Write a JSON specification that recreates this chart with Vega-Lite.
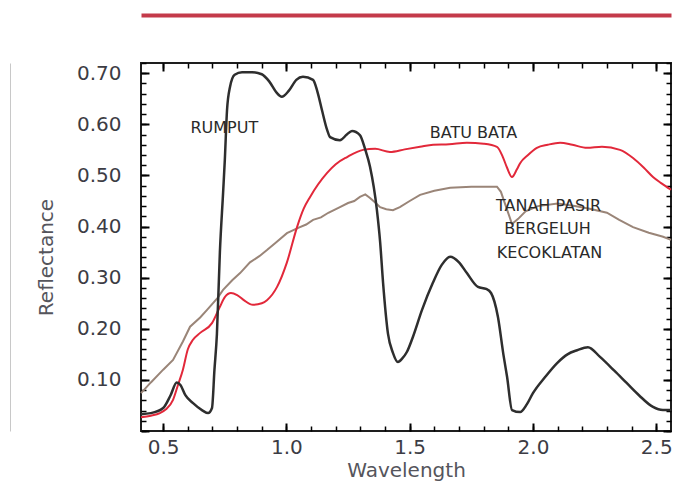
{
  "$schema": "https://vega.github.io/schema/vega-lite/v6.json",
  "width": 530,
  "height": 368,
  "autosize": "none",
  "padding": {"left": 141, "top": 63, "right": 7, "bottom": 52},
  "background": "white",
  "config": {
    "view": {"stroke": "#1e1e1e", "strokeWidth": 2},
    "axis": {"grid": false, "labelFont": "DejaVu Sans", "titleFont": "DejaVu Sans"}
  },
  "datasets": {
    "rumput": [
      {"w": 0.41, "r": 0.033}, {"w": 0.45, "r": 0.035}, {"w": 0.5, "r": 0.045}, {"w": 0.53, "r": 0.07},
      {"w": 0.555, "r": 0.095}, {"w": 0.57, "r": 0.09}, {"w": 0.59, "r": 0.07}, {"w": 0.62, "r": 0.055},
      {"w": 0.66, "r": 0.04}, {"w": 0.682, "r": 0.035}, {"w": 0.698, "r": 0.045}, {"w": 0.708, "r": 0.12},
      {"w": 0.718, "r": 0.19}, {"w": 0.73, "r": 0.35}, {"w": 0.743, "r": 0.466}, {"w": 0.75, "r": 0.53},
      {"w": 0.759, "r": 0.628}, {"w": 0.771, "r": 0.673}, {"w": 0.79, "r": 0.697}, {"w": 0.82, "r": 0.702},
      {"w": 0.86, "r": 0.702}, {"w": 0.9, "r": 0.698}, {"w": 0.93, "r": 0.684}, {"w": 0.96, "r": 0.662},
      {"w": 0.981, "r": 0.654}, {"w": 1.01, "r": 0.666}, {"w": 1.04, "r": 0.687}, {"w": 1.067, "r": 0.693},
      {"w": 1.108, "r": 0.687}, {"w": 1.125, "r": 0.665}, {"w": 1.144, "r": 0.628}, {"w": 1.165, "r": 0.589},
      {"w": 1.177, "r": 0.575}, {"w": 1.217, "r": 0.569}, {"w": 1.245, "r": 0.58}, {"w": 1.266, "r": 0.587},
      {"w": 1.298, "r": 0.579}, {"w": 1.32, "r": 0.55}, {"w": 1.339, "r": 0.517}, {"w": 1.367, "r": 0.432},
      {"w": 1.38, "r": 0.37}, {"w": 1.392, "r": 0.29}, {"w": 1.412, "r": 0.19}, {"w": 1.432, "r": 0.153},
      {"w": 1.452, "r": 0.135}, {"w": 1.47, "r": 0.142}, {"w": 1.489, "r": 0.155}, {"w": 1.513, "r": 0.184},
      {"w": 1.55, "r": 0.237}, {"w": 1.594, "r": 0.29}, {"w": 1.63, "r": 0.325}, {"w": 1.664, "r": 0.341},
      {"w": 1.7, "r": 0.33}, {"w": 1.732, "r": 0.309}, {"w": 1.777, "r": 0.282}, {"w": 1.81, "r": 0.278},
      {"w": 1.83, "r": 0.27}, {"w": 1.858, "r": 0.223}, {"w": 1.88, "r": 0.15}, {"w": 1.895, "r": 0.106},
      {"w": 1.915, "r": 0.041}, {"w": 1.948, "r": 0.037}, {"w": 1.975, "r": 0.052}, {"w": 2.0, "r": 0.074},
      {"w": 2.05, "r": 0.106}, {"w": 2.098, "r": 0.133}, {"w": 2.14, "r": 0.15}, {"w": 2.179, "r": 0.158},
      {"w": 2.223, "r": 0.164}, {"w": 2.272, "r": 0.145}, {"w": 2.33, "r": 0.118}, {"w": 2.38, "r": 0.094},
      {"w": 2.43, "r": 0.07}, {"w": 2.487, "r": 0.047}, {"w": 2.527, "r": 0.041}, {"w": 2.56, "r": 0.041}
    ],
    "batu": [
      {"w": 0.41, "r": 0.027}, {"w": 0.45, "r": 0.03}, {"w": 0.487, "r": 0.035}, {"w": 0.51, "r": 0.042},
      {"w": 0.54, "r": 0.061}, {"w": 0.56, "r": 0.09}, {"w": 0.58, "r": 0.12}, {"w": 0.6, "r": 0.16},
      {"w": 0.62, "r": 0.178}, {"w": 0.65, "r": 0.192}, {"w": 0.698, "r": 0.211}, {"w": 0.73, "r": 0.243},
      {"w": 0.75, "r": 0.262}, {"w": 0.775, "r": 0.27}, {"w": 0.8, "r": 0.266}, {"w": 0.83, "r": 0.255},
      {"w": 0.864, "r": 0.247}, {"w": 0.9, "r": 0.25}, {"w": 0.921, "r": 0.256}, {"w": 0.962, "r": 0.282},
      {"w": 1.002, "r": 0.33}, {"w": 1.043, "r": 0.399}, {"w": 1.07, "r": 0.435}, {"w": 1.096, "r": 0.458},
      {"w": 1.165, "r": 0.505}, {"w": 1.2, "r": 0.522}, {"w": 1.246, "r": 0.536}, {"w": 1.311, "r": 0.55},
      {"w": 1.36, "r": 0.552}, {"w": 1.42, "r": 0.546}, {"w": 1.48, "r": 0.551}, {"w": 1.542, "r": 0.556},
      {"w": 1.595, "r": 0.56}, {"w": 1.66, "r": 0.561}, {"w": 1.732, "r": 0.564}, {"w": 1.8, "r": 0.562},
      {"w": 1.854, "r": 0.556}, {"w": 1.878, "r": 0.536}, {"w": 1.895, "r": 0.515}, {"w": 1.915, "r": 0.497},
      {"w": 1.935, "r": 0.512}, {"w": 1.948, "r": 0.524}, {"w": 1.98, "r": 0.54}, {"w": 2.016, "r": 0.554},
      {"w": 2.06, "r": 0.56}, {"w": 2.11, "r": 0.564}, {"w": 2.16, "r": 0.56}, {"w": 2.219, "r": 0.554},
      {"w": 2.28, "r": 0.556}, {"w": 2.353, "r": 0.55}, {"w": 2.406, "r": 0.534}, {"w": 2.45, "r": 0.515},
      {"w": 2.487, "r": 0.497}, {"w": 2.52, "r": 0.485}, {"w": 2.56, "r": 0.472}
    ],
    "tanah": [
      {"w": 0.41, "r": 0.074}, {"w": 0.45, "r": 0.095}, {"w": 0.5, "r": 0.12}, {"w": 0.54, "r": 0.139},
      {"w": 0.58, "r": 0.175}, {"w": 0.609, "r": 0.204}, {"w": 0.65, "r": 0.222}, {"w": 0.678, "r": 0.237},
      {"w": 0.72, "r": 0.26}, {"w": 0.743, "r": 0.276}, {"w": 0.78, "r": 0.295}, {"w": 0.812, "r": 0.309},
      {"w": 0.852, "r": 0.33}, {"w": 0.89, "r": 0.342}, {"w": 0.921, "r": 0.354}, {"w": 0.96, "r": 0.37},
      {"w": 1.002, "r": 0.387}, {"w": 1.05, "r": 0.398}, {"w": 1.08, "r": 0.404}, {"w": 1.108, "r": 0.413},
      {"w": 1.14, "r": 0.418}, {"w": 1.17, "r": 0.427}, {"w": 1.217, "r": 0.438}, {"w": 1.25, "r": 0.446},
      {"w": 1.275, "r": 0.45}, {"w": 1.298, "r": 0.458}, {"w": 1.32, "r": 0.463}, {"w": 1.339, "r": 0.456},
      {"w": 1.36, "r": 0.447}, {"w": 1.38, "r": 0.438}, {"w": 1.405, "r": 0.434}, {"w": 1.432, "r": 0.432},
      {"w": 1.46, "r": 0.438}, {"w": 1.5, "r": 0.45}, {"w": 1.542, "r": 0.462}, {"w": 1.6, "r": 0.47},
      {"w": 1.664, "r": 0.476}, {"w": 1.75, "r": 0.478}, {"w": 1.854, "r": 0.478}, {"w": 1.87, "r": 0.468},
      {"w": 1.89, "r": 0.44}, {"w": 1.915, "r": 0.405}, {"w": 1.94, "r": 0.415}, {"w": 1.97, "r": 0.43},
      {"w": 2.02, "r": 0.44}, {"w": 2.1, "r": 0.445}, {"w": 2.17, "r": 0.44}, {"w": 2.23, "r": 0.435},
      {"w": 2.3, "r": 0.427}, {"w": 2.35, "r": 0.413}, {"w": 2.406, "r": 0.399}, {"w": 2.47, "r": 0.388},
      {"w": 2.528, "r": 0.38}, {"w": 2.56, "r": 0.374}
    ],
    "labelsA": [
      {"w": 0.748, "r": 0.593, "label": "RUMPUT"},
      {"w": 1.759, "r": 0.583, "label": "BATU BATA"}
    ],
    "labelsB": [
      {"w": 2.063, "r": 0.44, "label": "TANAH PASIR"},
      {"w": 2.059, "r": 0.395, "label": "BERGELUH"},
      {"w": 2.067, "r": 0.348, "label": "KECOKLATAN"}
    ]
  },
  "resolve": {"axis": {"x": "independent", "y": "independent"}},
  "layer": [
    {
      "data": {"name": "tanah"},
      "mark": {"type": "line", "color": "#9a8578", "strokeWidth": 2},
      "encoding": {
        "x": {"field": "w", "type": "quantitative",
          "scale": {"domain": [0.41, 2.56], "nice": false, "zero": false},
          "axis": {"orient": "bottom", "tickCount": 5, "format": ".1f",
            "title": "Wavelength", "titleFontSize": 20, "titleFontWeight": "normal", "titleColor": "#55555c",
            "labelFontSize": 20, "labelColor": "#3c3c44", "labelFlush": false, "labelOverlap": false,
            "domain": false, "tickSize": -8, "tickColor": "black", "tickWidth": 2, "labelPadding": 14, "titlePadding": 3}},
        "y": {"field": "r", "type": "quantitative",
          "scale": {"domain": [0, 0.72], "nice": false, "zero": false},
          "axis": {"orient": "left", "tickCount": 7,
            "labelExpr": "datum.value < 0.05 ? '' : format(datum.value, '.2f')",
            "title": "Reflectance", "titleFontSize": 20, "titleFontWeight": "normal", "titleColor": "#55555c",
            "labelFontSize": 20, "labelColor": "#3c3c44", "labelFlush": false, "labelOverlap": false,
            "domain": false, "tickSize": -8, "tickColor": "black", "tickWidth": 2, "labelPadding": 28, "titlePadding": 20, "titleY": 194}}
      }
    },
    {
      "data": {"name": "batu"},
      "mark": {"type": "line", "color": "#e2283a", "strokeWidth": 2, "interpolate": "monotone"},
      "encoding": {
        "x": {"field": "w", "type": "quantitative",
          "scale": {"domain": [0.41, 2.56], "nice": false, "zero": false},
          "axis": {"orient": "top", "tickCount": 5, "labels": false, "title": null, "domain": false,
            "offset": -8, "tickSize": 8, "tickColor": "black", "tickWidth": 2}},
        "y": {"field": "r", "type": "quantitative",
          "scale": {"domain": [0, 0.72], "nice": false, "zero": false},
          "axis": {"orient": "right", "tickCount": 7, "labels": false, "title": null, "domain": false,
            "offset": -8, "tickSize": 8, "tickColor": "black", "tickWidth": 2}}
      }
    },
    {
      "data": {"name": "rumput"},
      "mark": {"type": "line", "color": "#2e2e2e", "strokeWidth": 2.5, "interpolate": "monotone"},
      "encoding": {
        "x": {"field": "w", "type": "quantitative",
          "scale": {"domain": [0.41, 2.56], "nice": false, "zero": false},
          "axis": {"orient": "bottom", "tickCount": 20, "labels": false, "title": null, "domain": false,
            "offset": -5, "tickSize": 5, "tickColor": "black", "tickWidth": 1.5}},
        "y": {"field": "r", "type": "quantitative",
          "scale": {"domain": [0, 0.72], "nice": false, "zero": false},
          "axis": {"orient": "left", "tickCount": 36, "labels": false, "title": null, "domain": false,
            "offset": -5, "tickSize": 5, "tickColor": "black", "tickWidth": 1.5}}
      }
    },
    {
      "data": {"name": "labelsA"},
      "mark": {"type": "text", "font": "DejaVu Sans", "fontSize": 16, "color": "#2a2a2a", "align": "center", "baseline": "middle"},
      "encoding": {
        "x": {"field": "w", "type": "quantitative",
          "scale": {"domain": [0.41, 2.56], "nice": false, "zero": false},
          "axis": {"orient": "top", "tickCount": 20, "labels": false, "title": null, "domain": false,
            "offset": -5, "tickSize": 5, "tickColor": "black", "tickWidth": 1.5}},
        "y": {"field": "r", "type": "quantitative",
          "scale": {"domain": [0, 0.72], "nice": false, "zero": false},
          "axis": {"orient": "right", "tickCount": 36, "labels": false, "title": null, "domain": false,
            "offset": -5, "tickSize": 5, "tickColor": "black", "tickWidth": 1.5}},
        "text": {"field": "label"}
      }
    },
    {
      "data": {"name": "labelsB"},
      "mark": {"type": "text", "font": "DejaVu Sans", "fontSize": 16, "color": "#2a2a2a", "align": "center", "baseline": "middle"},
      "encoding": {
        "x": {"field": "w", "type": "quantitative",
          "scale": {"domain": [0.41, 2.56], "nice": false, "zero": false},
          "axis": {"orient": "top", "offset": 48, "ticks": false, "labels": false, "title": null,
            "domain": true, "domainColor": "#c43a4a", "domainWidth": 4}},
        "y": {"field": "r", "type": "quantitative",
          "scale": {"domain": [0, 0.72], "nice": false, "zero": false},
          "axis": {"orient": "left", "offset": 131, "ticks": false, "labels": false, "title": null,
            "domain": true, "domainColor": "#c8c8c8", "domainWidth": 1}},
        "text": {"field": "label"}
      }
    }
  ]
}
